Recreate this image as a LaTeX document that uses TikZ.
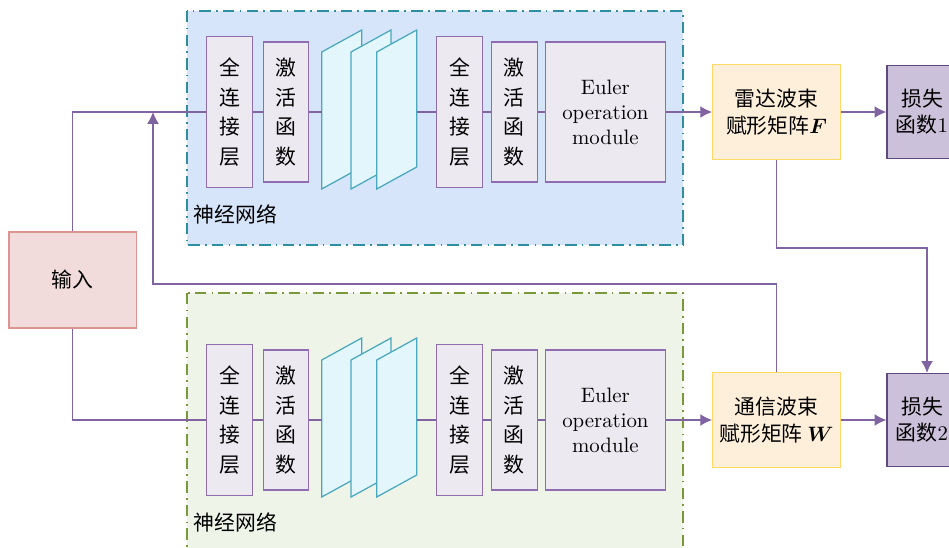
\documentclass[tikz,border=0pt]{standalone}
\usepackage{fontspec}
\usepackage{bm}
\newfontfamily\cjk{Noto Sans CJK SC}
\usetikzlibrary{arrows.meta, positioning}
\definecolor{panelblue}{HTML}{D7E5FA}
\definecolor{edgeblue}{HTML}{2E8FA0}
\definecolor{panelgreen}{HTML}{EEF4E7}
\definecolor{edgegreen}{HTML}{7A9A3A}
\definecolor{layerfill}{HTML}{EDE9F1}
\definecolor{layeredge}{HTML}{8E6DB0}
\definecolor{sheetfill}{HTML}{E2F6FC}
\definecolor{sheetedge}{HTML}{4AA8BE}
\definecolor{infill}{HTML}{F2DCDB}
\definecolor{inedge}{HTML}{DD9490}
\definecolor{beamfill}{HTML}{FEEFDA}
\definecolor{beamedge}{HTML}{FFD966}
\definecolor{lossfill}{HTML}{CCC1DA}
\definecolor{lossedge}{HTML}{60497B}
\definecolor{wirecol}{HTML}{8064A2}
\def\pxu{0.48pt}
\tikzset{%
>={Latex[width=2mm,length=2mm]},
  % Specifications for style of nodes:
            layer/.style = {rectangle, draw=layeredge, fill=layerfill,
                            font=\cjk\fontsize{10}{14.2}\selectfont},
            fcbox/.style = {layer, minimum width=45.5*\pxu, minimum height=151*\pxu},
            actbox/.style = {layer, minimum width=45.5*\pxu, minimum height=140*\pxu},
            eulbox/.style = {layer, minimum width=119.5*\pxu, minimum height=140*\pxu,
                            font=\rmfamily\fontsize{10}{12}\selectfont},
            beambox/.style = {rectangle, draw=beamedge, fill=beamfill, minimum width=127.5*\pxu,
                            minimum height=95*\pxu, font=\cjk\fontsize{10}{12.8}\selectfont},
            lossbox/.style = {rectangle, draw=lossedge, fill=lossfill, minimum width=70*\pxu,
                            minimum height=93*\pxu, font=\cjk\fontsize{10}{12.5}\selectfont},
            inbox/.style = {rectangle, draw=inedge, fill=infill, minimum width=127.7*\pxu,
                            minimum height=96*\pxu, font=\cjk},
  % Specifications for style of lines:
            sheet/.style = {draw=sheetedge, fill=sheetfill},
            panel/.style = {dash pattern=on 5.5pt off 2.5pt on 0.8pt off 2.5pt},
            wire/.style = {draw=wirecol, fill=none}
}
\begin{document}
\begin{tikzpicture}[x=\pxu, y=-\pxu, line width=0.6pt, every node/.style={inner sep=0pt, align=center}]
    \useasboundingbox (0,0) rectangle (949,547);
    \clip (0,0) rectangle (949,547);
    \foreach \row/\dy/\ytop/\ybot/\pf/\pd in {a/0/11/245/panelblue/edgeblue, b/308/293/560/panelgreen/edgegreen}{
        \draw[panel, fill=\pf, draw=\pd] (187,\ytop) rectangle (683,\ybot);
        \node[anchor=west, font=\cjk] (net\row) at (193,214+\dy) {神经网络};
        \node[fcbox] (fc1\row) at (229.5,112+\dy) {全\\连\\接\\层};
        \node[actbox] (act1\row) at (286,112+\dy) {激\\活\\函\\数};
        \foreach \sx in {321.7,351,376.7}{
            \draw[sheet] (\sx,189+\dy) -- ++(0,-137) -- ++(40,-22) -- ++(0,137) -- cycle;
        }
        \coordinate (sin\row) at (321.7,112+\dy);
        \coordinate (sout\row) at (416.7,112+\dy);
        \node[fcbox] (fc2\row) at (459.5,112+\dy) {全\\连\\接\\层};
        \node[actbox] (act2\row) at (514.4,112+\dy) {激\\活\\函\\数};
        \node[eulbox] (eul\row) at (605.4,112+\dy) {Euler\\operation\\module};
        \draw[wire] (fc1\row) -- (act1\row) -- (sin\row) (sout\row) -- (fc2\row) -- (act2\row) -- (eul\row);
    }
    \node[beambox] (radar) at (776.5,112) {雷达波束\\赋形矩阵$\bm{F}$};
    \node[beambox] (comm) at (776.5,420) {通信波束\\赋形矩阵 $\bm{W}$};
    \node[lossbox] (loss1) at (922,112) {损失\\函数\textrm{1}};
    \node[lossbox] (loss2) at (922,420) {损失\\函数\textrm{2}};
    \node[inbox] (in) at (72.8,280) {输入};
    \coordinate (fb) at (153,284);
    \coordinate (rd) at (927,248);
    \draw[wire] (in) |- (fc1a);
    \draw[wire] (in) |- (fc1b);
    \draw[wire,->] (eula) -- (radar);
    \draw[wire,->] (eulb) -- (comm);
    \draw[wire,->] (radar) -- (loss1);
    \draw[wire,->] (comm) -- (loss2);
    \draw[wire,->] (comm) |- (fb) -- (fb |- fc1a.west);
    \draw[wire,->] (radar) |- (rd) -- (rd |- loss2.north);
\end{tikzpicture}
\end{document}
